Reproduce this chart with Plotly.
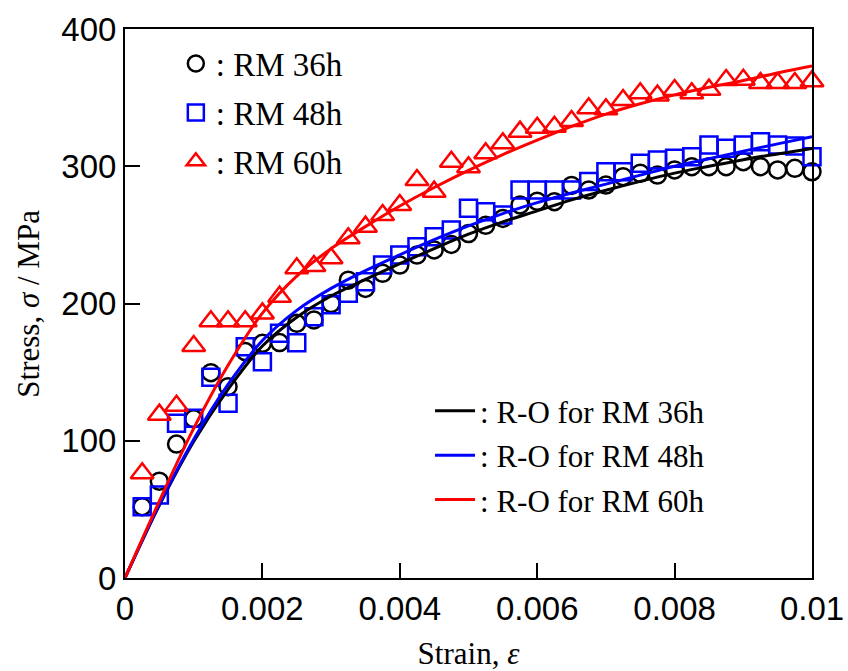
import plotly.graph_objects as go

# ---------------- data ----------------
strain_pts = [0.00025 * k for k in range(1, 41)]

stress_36h = [52, 70.5, 97.6, 116, 149.6, 139.4, 165, 171, 171.5, 185.6,
              188, 200, 217, 211, 222, 228, 235.3, 239, 243, 251,
              257, 262, 271.8, 274.5, 274.2, 286, 282.7, 286.3, 292.4, 294.9,
              293.6, 297.3, 299.7, 299.7, 299.7, 303.3, 299.7, 297.3, 298.5, 296]

stress_48h = [52, 60.5, 112.7, 116.4, 146.2, 127.3, 168.5, 157.6, 178.3, 171.4,
              190.4, 199, 207.4, 215.9, 228, 235.3, 241.4, 248.7, 253.6, 269.4,
              266.9, 264.5, 282.7, 282.7, 282.7, 282.7, 288.8, 296, 296, 302.1,
              304.6, 305.8, 307, 315.5, 313.1, 315.5, 317.9, 315.5, 314.8, 307]

stress_60h = [76.3, 119, 125.5, 169, 187, 187, 187, 192.8, 205, 225.6,
              227.3, 233, 247.5, 256, 264.5, 271.8, 290, 281.5, 303.3, 299.2,
              309.4, 316.7, 325.2, 328, 328.8, 333, 342.2, 341.5, 348.3, 353.2,
              351.5, 355.6, 353.2, 355.8, 362.8, 363, 360.7, 360.7, 360.7, 362]

fit_strain = [0, 0.0005, 0.001, 0.0015, 0.002, 0.0025, 0.003, 0.0035, 0.004,
              0.0045, 0.005, 0.0055, 0.006, 0.0065, 0.007, 0.0075, 0.008,
              0.0085, 0.009, 0.0095, 0.01]
fit_36h = [0, 53, 99.5, 137.5, 169, 190, 205.5, 217.5, 229, 240, 250.5,
           259.5, 267.5, 275.5, 282.5, 289, 295, 300, 304.8, 309, 313]
fit_48h = [0, 53.5, 101, 141, 173, 195, 211, 224, 235.5, 246.5, 256.5,
           265.5, 273.5, 280.5, 287, 293.5, 300, 305.5, 311, 316.3, 321.5]
fit_60h = [0, 56, 109, 155, 193, 220, 240, 256, 271, 284.5, 297,
           308.5, 319, 329, 338, 345.5, 352, 357.5, 362.5, 368, 373]

x_tickvals = [0, 0.002, 0.004, 0.006, 0.008, 0.01]
x_ticktext = ["0", "0.002", "0.004", "0.006", "0.008", "0.01"]
y_tickvals = [0, 100, 200, 300, 400]
y_ticktext = ["0", "100", "200", "300", "400"]

names_pts = [": RM 36h", ": RM 48h", ": RM 60h"]
names_fit = [": R-O for RM 36h", ": R-O for RM 48h", ": R-O for RM 60h"]
x_title = "Strain, <i>ε</i>"
y_title = "Stress, <i>σ</i> / MPa"

BLACK, BLUE, RED = "#000000", "#0000ff", "#ff0000"
SERIF = "Liberation Serif, Times New Roman, serif"
SANS = "Liberation Sans, Arial, sans-serif"

fig = go.Figure()

marker_specs = [
    (stress_36h, names_pts[0], "circle-open", BLACK, 17),
    (stress_48h, names_pts[1], "square-open", BLUE, 17),
    (stress_60h, names_pts[2], "triangle-up-open", RED, 20),
]
for i, (ys, nm, sym, col, sz) in enumerate(marker_specs):
    fig.add_trace(go.Scatter(
        x=strain_pts, y=ys, mode="markers", name=nm,
        marker=dict(symbol=sym, size=sz, color=col, line=dict(width=2.5, color=col)),
        cliponaxis=False, legend="legend", legendgroup=f"p{i}",
    ))

line_specs = [(fit_36h, names_fit[0], BLACK), (fit_48h, names_fit[1], BLUE),
              (fit_60h, names_fit[2], RED)]
for i, (ys, nm, col) in enumerate(line_specs):
    fig.add_trace(go.Scatter(
        x=fit_strain, y=ys, mode="lines", name=nm,
        line=dict(color=col, width=3, shape="spline", smoothing=1.0),
        legend="legend2", legendgroup=f"l{i}",
    ))

axis_common = dict(
    showline=True, linecolor="black", linewidth=2, mirror=True,
    ticks="inside", ticklen=15, tickwidth=2, tickcolor="black",
    showgrid=False, zeroline=False, automargin=False,
    tickfont=dict(family=SANS, size=33, color="black"),
)

fig.update_layout(
    width=848, height=671,
    margin=dict(l=125, r=35.5, t=29, b=93, autoexpand=False),
    paper_bgcolor="white", plot_bgcolor="white",
    xaxis=dict(range=[0, 0.01], tickmode="array", tickvals=x_tickvals,
               ticktext=x_ticktext,
               title=dict(text=x_title, font=dict(family=SERIF, size=31, color="black"),
                          standoff=18),
               **axis_common),
    yaxis=dict(range=[0, 400], tickmode="array", tickvals=y_tickvals,
               ticktext=y_ticktext, **axis_common),
    legend=dict(x=0.074, y=0.988, xanchor="left", yanchor="top",
                bgcolor="rgba(0,0,0,0)", borderwidth=0,
                font=dict(family=SERIF, size=33, color="black"),
                tracegroupgap=3, itemwidth=30, itemsizing="trace"),
    legend2=dict(x=0.444, y=0.353, xanchor="left", yanchor="top",
                 bgcolor="rgba(0,0,0,0)", borderwidth=0,
                 font=dict(family=SERIF, size=31, color="black"),
                 tracegroupgap=1, itemwidth=40),
    showlegend=True,
    annotations=[dict(text=y_title, xref="paper", yref="paper",
                      x=-0.141, y=0.5, xanchor="center", yanchor="middle",
                      textangle=-90, showarrow=False,
                      font=dict(family=SERIF, size=31, color="black"))],
)

fig.write_html("out.html", config={"displayModeBar": False},
               post_script="document.body.style.margin='0px';")
